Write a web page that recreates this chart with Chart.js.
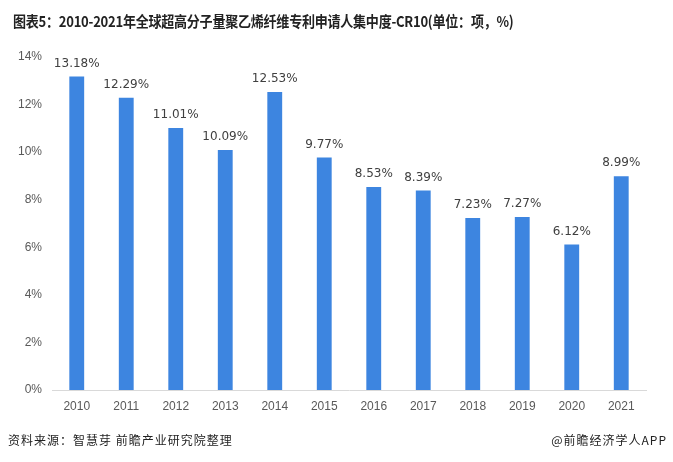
<!DOCTYPE html>
<html>
<head>
<meta charset="utf-8">
<script src="https://cdn.jsdelivr.net/npm/chart.js@4/dist/chart.umd.min.js"></script>
<style>
  html, body { margin: 0; padding: 0; background: #fff; }
  #wrap { position: relative; width: 673px; height: 462px; overflow: hidden; }
  #title { position: absolute; left: 13px; top: 10px; font: bold 15px "Noto Sans CJK SC", sans-serif; color: #222; white-space: nowrap; letter-spacing: -0.3px; transform: scaleX(0.87); transform-origin: left top; }
  #source { position: absolute; left: 8px; top: 431px; font: 12px "Noto Sans CJK SC", sans-serif; color: #222; letter-spacing: 1px; }
  #brand { position: absolute; right: 6px; top: 431px; font: 12px "Noto Sans CJK SC", sans-serif; color: #222; letter-spacing: 1px; }
  canvas { position: absolute; left: 0; top: 0; }
</style>
</head>
<body>
<div id="wrap">
  <canvas id="chart" width="673" height="462"></canvas>
  <div id="title">图表5：2010-2021年全球超高分子量聚乙烯纤维专利申请人集中度-CR10(单位：项，%)</div>
  <div id="source">资料来源：智慧芽 前瞻产业研究院整理</div>
  <div id="brand">@前瞻经济学人APP</div>
</div>
<script>
const years = ['2010', '2011', '2012', '2013', '2014', '2015', '2016', '2017', '2018', '2019', '2020', '2021'];
const cr10 = [13.18, 12.29, 11.01, 10.09, 12.53, 9.77, 8.53, 8.39, 7.23, 7.27, 6.12, 8.99];
const yTicks = [0, 2, 4, 6, 8, 10, 12, 14];

const valueLabels = {
  id: 'valueLabels',
  afterDatasetsDraw(chart) {
    const ctx = chart.ctx;
    const meta = chart.getDatasetMeta(0);
    ctx.save();
    ctx.font = '12px "DejaVu Sans", sans-serif';
    ctx.fillStyle = '#404040';
    ctx.textAlign = 'center';
    ctx.textBaseline = 'bottom';
    meta.data.forEach((bar, i) => {
      ctx.fillText(cr10[i].toFixed(2) + '%', bar.x, bar.y - 7);
    });
    ctx.restore();
  }
};

new Chart(document.getElementById('chart'), {
  type: 'bar',
  data: {
    labels: years,
    datasets: [{
      data: cr10,
      backgroundColor: '#3d85e0',
      barPercentage: 0.6,
      categoryPercentage: 0.5
    }]
  },
  options: {
    responsive: false,
    animation: false,
    layout: { padding: { left: 0, right: 27, top: 57, bottom: 42 } },
    plugins: { legend: { display: false }, tooltip: { enabled: false } },
    scales: {
      x: {
        grid: { display: false },
        border: { display: true, color: '#d9d9d9', width: 1 },
        ticks: { color: '#595959', font: { size: 12, family: 'Arial, "Liberation Sans", sans-serif' }, padding: 1 },
        afterFit: s => { s.height = 30; }
      },
      y: {
        min: 0,
        max: 14,
        afterBuildTicks: s => { s.ticks = yTicks.map(v => ({ value: v })); },
        grid: { display: false },
        border: { display: false },
        ticks: { color: '#595959', font: { size: 12, family: 'Arial, "Liberation Sans", sans-serif' }, padding: 2, callback: v => v + '%' },
        afterFit: s => { s.width = 52; }
      }
    }
  },
  plugins: [valueLabels]
});
</script>
</body>
</html>
